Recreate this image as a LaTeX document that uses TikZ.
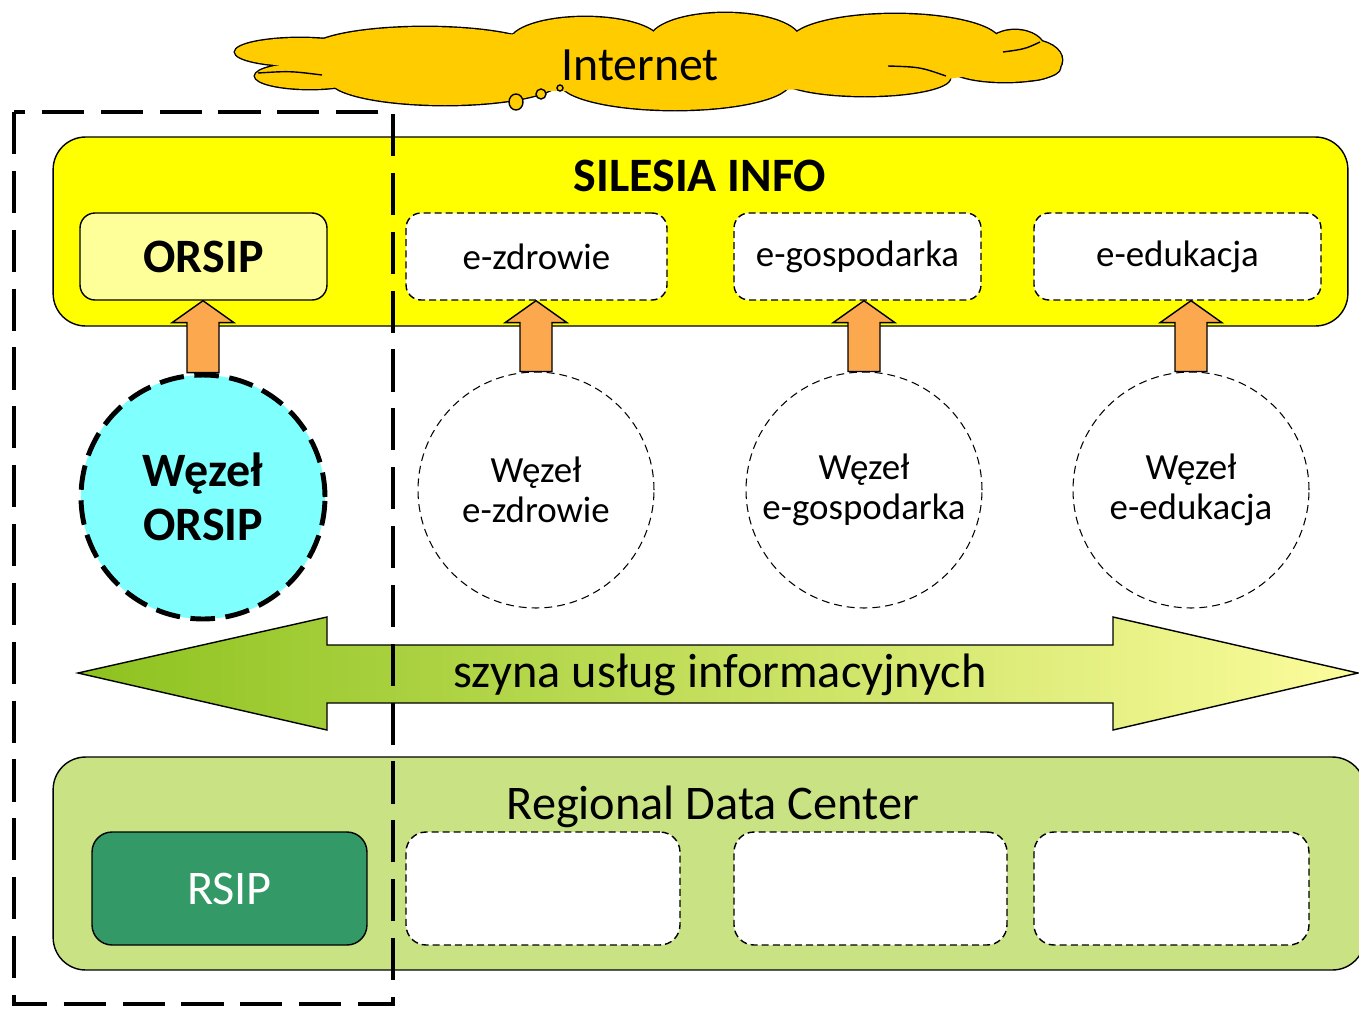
\documentclass[tikz,border=0pt]{standalone}
\usepackage{fontspec}
\setmainfont{Carlito}
\usetikzlibrary{calc}

\definecolor{cloudgold}{HTML}{FFCC00}
\definecolor{infoyellow}{HTML}{FFFF00}
\definecolor{orsipyellow}{HTML}{FFFF99}
\definecolor{nodecyan}{HTML}{80FFFF}
\definecolor{uporange}{HTML}{FBA84F}
\definecolor{busgreen}{HTML}{8DC21F}
\definecolor{buslight}{HTML}{FCFC9C}
\definecolor{rdcgreen}{HTML}{C9E384}
\definecolor{rsipgreen}{HTML}{339966}

\begin{document}
\begin{tikzpicture}[x=0.02cm, y=-0.02cm,
                    font=\fontsize{21}{23}\selectfont,
                    box/.style={draw, line width=0.8pt, rounded corners=0.3cm, inner sep=0pt},
                    bigbox/.style={box, rounded corners=0.65cm},
                    servicebox/.style={box, fill=white, dash pattern=on 4pt off 2.3pt},
                    nodecircle/.style={circle, draw, fill=white, line width=0.6pt,
                                       dash pattern=on 4.5pt off 2.8pt, align=center, inner sep=0pt},
                    bigbold/.style={font=\fontsize{27.3}{31}\selectfont\bfseries},
                    bigtext/.style={font=\fontsize{27.5}{31}\selectfont},
                    uparrow/.style={draw, line width=0.8pt, fill=uporange}]
    \clip (0,0) rectangle (1359,1008);

    \foreach \cx/\cy/\rx/\ry in {300/52/65/14, 310/76/55/13, 425/50/115/23, 585/42/75/25,
                                 725/40/75/27, 895/42/105/28, 1015/50/30/20, 1030/60/32/20,
                                 1005/68/55/14, 865/78/85/18, 675/82/115/28, 445/80/115/25}
        \draw[line width=1.6pt, fill=cloudgold] (\cx,\cy) ellipse [x radius=\rx, y radius=\ry];
    \foreach \cx/\cy/\rx/\ry in {300/52/65/14, 310/76/55/13, 425/50/115/23, 585/42/75/25,
                                 725/40/75/27, 895/42/105/28, 1015/50/30/20, 1030/60/32/20,
                                 1005/68/55/14, 865/78/85/18, 675/82/115/28, 445/80/115/25}
        \fill[cloudgold] (\cx,\cy) ellipse [x radius=\rx, y radius=\ry];
    \fill[cloudgold] (650,62) ellipse [x radius=360, y radius=30];
    \draw[line width=0.8pt] (258,73) .. controls (290,71) .. (322,75);
    \draw[line width=0.8pt] (888,66) .. controls (920,67) .. (946,76);
    \draw[line width=0.8pt] (1003,52) .. controls (1025,49) .. (1040,42);
    \node[font=\fontsize{27.2}{31}\selectfont] (internet) at (640,65) {Internet};
    \draw[line width=0.8pt, fill=cloudgold] (516,102) ellipse [x radius=7, y radius=8];
    \draw[line width=0.8pt, fill=cloudgold] (541,94) circle [radius=5];
    \draw[line width=0.8pt, fill=cloudgold] (560,88) circle [radius=3];

    \node[bigbox, fill=infoyellow, minimum width=25.9cm, minimum height=3.78cm] (silesia) at (700.5,231.5) {};
    \node[bigbold] (silesiatitle) at (700,176) {SILESIA INFO};
    \node[box, fill=orsipyellow, minimum width=4.94cm, minimum height=1.74cm, bigbold] (orsip) at (203.5,256.5) {ORSIP};
    \node[servicebox, minimum width=5.22cm, minimum height=1.74cm] (ezdrowie) at (536.5,256.5) {e-zdrowie};
    \node[servicebox, minimum width=4.94cm, minimum height=1.74cm] (egospodarka) at (857.5,256.5) {e-gospodarka};
    \node[servicebox, minimum width=5.74cm, minimum height=1.74cm] (eedukacja) at (1177.5,256.5) {e-edukacja};

    \node[nodecircle, fill=nodecyan, line width=2.8pt, dash pattern=on 14pt off 6pt,
          minimum size=4.88cm, bigbold, align=center] (wezelorsip) at (203,497) {Węzeł\\ORSIP};
    \node[nodecircle, minimum size=4.72cm] (wezelzdrowie) at (536,490) {Węzeł\\e-zdrowie};
    \node[nodecircle, minimum size=4.72cm] (wezelgospodarka) at (864,490) {Węzeł\\e-gospodarka};
    \node[nodecircle, minimum size=4.72cm] (wezeledukacja) at (1191,490) {Węzeł\\e-edukacja};

    \foreach \from/\to in {wezelorsip/orsip, wezelzdrowie/ezdrowie,
                           wezelgospodarka/egospodarka, wezeledukacja/eedukacja}
        \draw[uparrow] ($(\from.north)+(-16,0)$) -- ($(\from.north |- \to.south)+(-16,22)$)
            -- ($(\from.north |- \to.south)+(-31,22)$) -- (\from.north |- \to.south)
            -- ($(\from.north |- \to.south)+(31,22)$) -- ($(\from.north |- \to.south)+(16,22)$)
            -- ($(\from.north)+(16,0)$) -- cycle;

    \path[draw, line width=0.8pt, left color=busgreen, right color=buslight]
        (78,673) -- (327,617) -- (327,645) -- (1113,645) -- (1113,617) -- (1358,673)
        -- (1113,730) -- (1113,703) -- (327,703) -- (327,730) -- cycle;
    \node[bigtext] (szyna) at (720,675) {szyna usług informacyjnych};

    \node[bigbox, fill=rdcgreen, minimum width=26.24cm, minimum height=4.26cm] (rdc) at (709,863.5) {};
    \node[bigtext] (rdctitle) at (713,807) {Regional Data Center};
    \node[box, fill=rsipgreen, rounded corners=0.4cm, minimum width=5.5cm, minimum height=2.26cm,
          text=white, bigtext] (rsip) at (229.5,888.5) {RSIP};
    \node[servicebox, rounded corners=0.4cm, minimum width=5.48cm, minimum height=2.26cm] (rdczdrowie) at (543,888.5) {};
    \node[servicebox, rounded corners=0.4cm, minimum width=5.46cm, minimum height=2.26cm] (rdcgospodarka) at (870.5,888.5) {};
    \node[servicebox, rounded corners=0.4cm, minimum width=5.5cm, minimum height=2.26cm] (rdcedukacja) at (1171.5,888.5) {};

    \draw[line width=2.3pt, dash pattern=on 24pt off 9.5pt] (14,112) rectangle (393,1004);
\end{tikzpicture}
\end{document}
